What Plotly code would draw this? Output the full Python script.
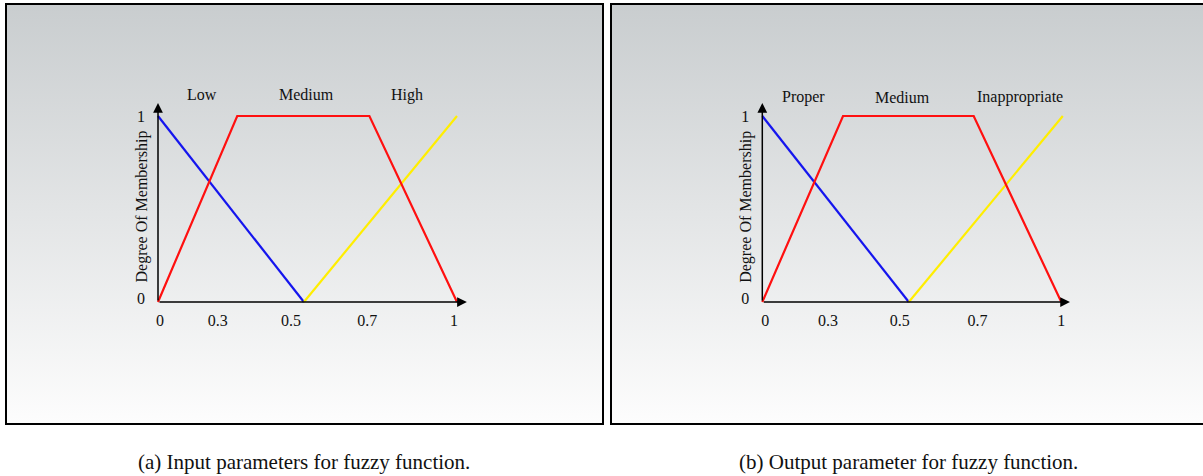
import plotly.graph_objects as go

# ---------------- data ----------------
# panel (a) input parameters
a_low_x = [0.0, 0.488]
a_low_y = [1.0, 0.0]
a_med_x = [0.0, 0.265, 0.707, 1.0]
a_med_y = [0.0, 1.0, 1.0, 0.0]
a_high_x = [0.488, 1.0]
a_high_y = [0.0, 1.0]
a_tick_vals = [0.007, 0.2, 0.445, 0.70, 0.99]
a_tick_text = ["0", "0.3", "0.5", "0.7", "1"]
a_set_names = ["Low", "Medium", "High"]
a_set_pos = [0.146, 0.498, 0.833]

# panel (b) output parameter
b_low_x = [0.0, 0.49]
b_low_y = [1.0, 0.0]
b_med_x = [0.0, 0.27, 0.707, 1.0]
b_med_y = [0.0, 1.0, 1.0, 0.0]
b_high_x = [0.49, 1.005]
b_high_y = [0.0, 1.0]
b_tick_vals = [0.01, 0.22, 0.46, 0.72, 1.0]
b_tick_text = ["0", "0.3", "0.5", "0.7", "1"]
b_set_names = ["Proper", "Medium", "Inappropriate"]
b_set_pos = [0.139, 0.47, 0.862]

y_tick_vals = [0.02, 1.0]
y_tick_text = ["0", "1"]
captions = ["(a) Input parameters for fuzzy function.", "(b) Output parameter for fuzzy function."]

# ---------------- layout constants ----------------
W, H = 1203, 476
FONT = "Liberation Serif"
SX, SY = 299.0, 186.0          # pixels per data unit
XR = [-0.04, 1.06]
YR = [-0.035, 1.15]
Y0_PX = 302.0
ORIGINS = [158.0, 762.3]


def xdom(origin_px):
    return [(origin_px + XR[0] * SX) / W, (origin_px + XR[1] * SX) / W]


def ydom():
    bottom = Y0_PX - YR[0] * SY
    top = Y0_PX - YR[1] * SY
    return [1 - bottom / H, 1 - top / H]


fig = go.Figure()

# background gradient panels on a full-paper helper axis (xy, drawn first)
panels = [(6, 603, 4, 424), (611, 1206, 4, 424)]
for (x0, x1, y0, y1) in panels:
    fig.add_trace(go.Scatter(
        x=[x0, x1, x1, x0, x0], y=[y0, y0, y1, y1, y0],
        mode="lines", line=dict(width=0), fill="toself",
        fillgradient=dict(type="vertical",
                          colorscale=[[0, "#fdfdfd"], [0.5, "#e3e5e6"], [1, "#c9cdcf"]]),
        hoverinfo="skip", showlegend=False, xaxis="x", yaxis="y"))

BLUE, RED, YEL = "#1515ee", "#ff1010", "#ffee00"
LW = 2.2

def add_panel(xa, ya, lx, ly, mx, my, hx, hy):
    fig.add_trace(go.Scatter(x=lx, y=ly, mode="lines", line=dict(color=BLUE, width=LW),
                             showlegend=False, xaxis=xa, yaxis=ya))
    fig.add_trace(go.Scatter(x=hx, y=hy, mode="lines", line=dict(color=YEL, width=LW),
                             showlegend=False, xaxis=xa, yaxis=ya))
    fig.add_trace(go.Scatter(x=mx, y=my, mode="lines", line=dict(color=RED, width=LW),
                             showlegend=False, xaxis=xa, yaxis=ya))

add_panel("x2", "y2", a_low_x, a_low_y, a_med_x, a_med_y, a_high_x, a_high_y)
add_panel("x3", "y3", b_low_x, b_low_y, b_med_x, b_med_y, b_high_x, b_high_y)

tickfont = dict(family=FONT, size=16, color="#111")
common_x = dict(range=XR, showgrid=False, zeroline=False, showline=False, ticks="",
                tickfont=tickfont, fixedrange=True)
common_y = dict(range=YR, showgrid=False, zeroline=False, showline=False, ticks="",
                tickvals=y_tick_vals, ticktext=y_tick_text, tickfont=tickfont, fixedrange=True,
                domain=ydom())

fig.update_layout(
    width=W, height=H, margin=dict(l=0, r=0, t=0, b=0),
    paper_bgcolor="white", plot_bgcolor="rgba(0,0,0,0)",
    showlegend=False,
    xaxis=dict(range=[0, W], domain=[0, 1], visible=False, fixedrange=True),
    yaxis=dict(range=[H, 0], domain=[0, 1], visible=False, fixedrange=True),
    xaxis2=dict(common_x, domain=xdom(ORIGINS[0]), anchor="y2",
                tickvals=a_tick_vals, ticktext=a_tick_text),
    yaxis2=dict(common_y, anchor="x2"),
    xaxis3=dict(common_x, domain=xdom(ORIGINS[1]), anchor="y3",
                tickvals=b_tick_vals, ticktext=b_tick_text),
    yaxis3=dict(common_y, anchor="x3"),
)

# panel borders
for (x0, x1, y0, y1) in panels:
    fig.add_shape(type="rect", xref="x", yref="y", x0=x0, x1=x1, y0=y0, y1=y1,
                  line=dict(color="black", width=2), fillcolor="rgba(0,0,0,0)")

# axis arrows, labels
for xa, ya, org, xtip, names, pos, ylab in [
        ("x2", "y2", ORIGINS[0], 1.033, a_set_names, a_set_pos, 1.113),
        ("x3", "y3", ORIGINS[1], 1.029, b_set_names, b_set_pos, 1.10)]:
    fig.add_annotation(x=xtip, y=0, ax=0, ay=0, xref=xa, yref=ya, axref=xa, ayref=ya,
                       showarrow=True, arrowhead=2, arrowsize=1.3, arrowwidth=1.5,
                       arrowcolor="black", text="")
    fig.add_annotation(x=0, y=1.07, ax=0, ay=0, xref=xa, yref=ya, axref=xa, ayref=ya,
                       showarrow=True, arrowhead=2, arrowsize=1.3, arrowwidth=1.5,
                       arrowcolor="black", text="")
    # y-axis title, placed in pixel space of the helper axis
    fig.add_annotation(x=org - 16.5, y=207, xref="x", yref="y", text="Degree Of Membership",
                       textangle=-90, showarrow=False,
                       font=dict(family=FONT, size=16, color="#111"))
    for n, p in zip(names, pos):
        fig.add_annotation(x=p, y=ylab, xref=xa, yref=ya, text=n, showarrow=False,
                           font=dict(family=FONT, size=16, color="#111"))

for cx, cap in zip([304, 908], captions):
    fig.add_annotation(x=cx, y=462, xref="x", yref="y", text=cap, showarrow=False,
                       font=dict(family=FONT, size=21, color="#111"))

fig.write_html("out.html", config={"displayModeBar": False},
               post_script="document.body.style.margin='0';document.body.style.padding='0';")
